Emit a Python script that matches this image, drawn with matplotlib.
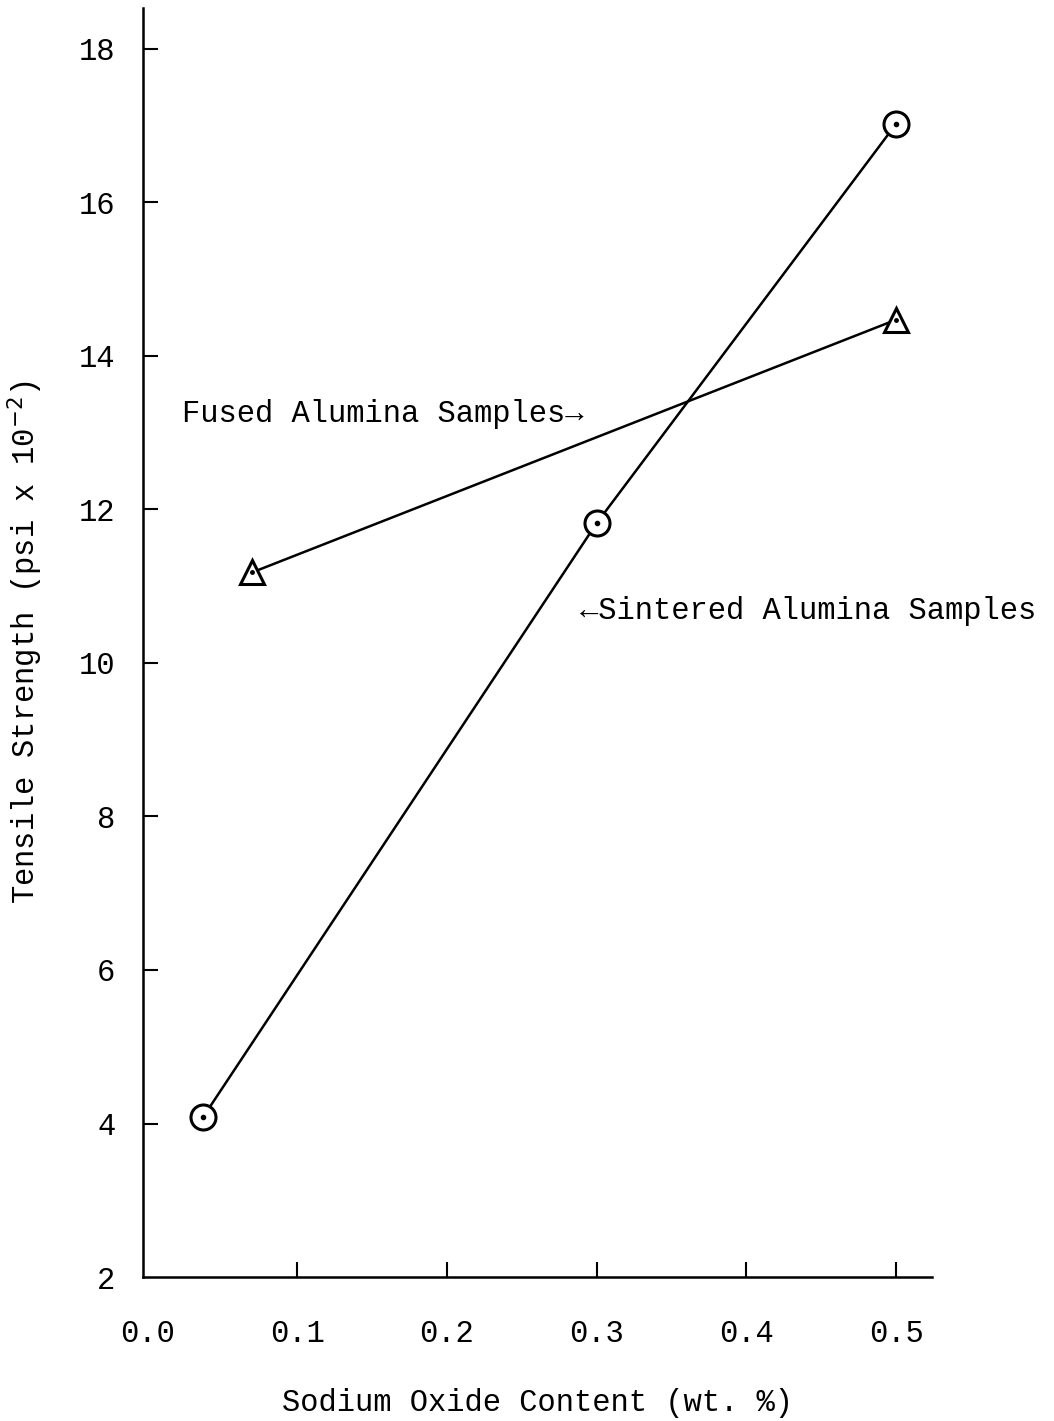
import matplotlib.pyplot as plt

plt.rcParams['font.family'] = ['Liberation Mono', 'DejaVu Sans Mono']

# data
sintered_x = [0.037, 0.30, 0.50]
sintered_y = [4.08, 11.82, 17.02]
fused_x = [0.07, 0.50]
fused_y = [11.18, 14.47]

x_ticks = [0.0, 0.1, 0.2, 0.3, 0.4, 0.5]
y_ticks = [2, 4, 6, 8, 10, 12, 14, 16, 18]

fig = plt.figure(figsize=(10.54, 14.21), dpi=100)
ax = fig.add_axes([0.1357, 0.1013, 0.7485, 0.8930])

ax.plot(sintered_x, sintered_y, color='black', lw=1.8, zorder=2)
ax.plot(sintered_x, sintered_y, 'o', ms=18, mfc='white', mec='black', mew=2.2, zorder=3)
ax.plot(sintered_x, sintered_y, '.', ms=6, color='black', zorder=4)

ax.plot(fused_x, fused_y, color='black', lw=1.8, zorder=2)
ax.plot(fused_x, fused_y, '^', ms=17, mfc='white', mec='black', mew=2.2, zorder=3)
ax.plot(fused_x, fused_y, '.', ms=5, color='black', zorder=4)

ax.text(0.0227, 13.24, 'Fused Alumina Samples\u2192', fontsize=22, va='center', ha='left')
ax.text(0.289, 10.67, '\u2190Sintered Alumina Samples', fontsize=22, va='center', ha='left')

ax.set_xlim(-0.003, 0.524)
ax.set_ylim(2, 18.53)
ax.set_xticks(x_ticks)
ax.set_xticklabels([f'{v:.1f}' for v in x_ticks])
ax.set_yticks(y_ticks)

ax.spines['top'].set_visible(False)
ax.spines['right'].set_visible(False)
for s in ['left', 'bottom']:
    ax.spines[s].set_linewidth(1.8)

ax.tick_params(axis='both', direction='in', length=11, width=1.5, labelsize=22)
ax.tick_params(axis='y', pad=20)
ax.tick_params(axis='x', pad=30)
# the 0.0 and 2 ticks sit on the axis lines in the original
ax.xaxis.get_major_ticks()[0].tick1line.set_visible(False)
ax.yaxis.get_major_ticks()[0].tick1line.set_visible(False)

ax.set_xlabel('Sodium Oxide Content (wt. %)', fontsize=22, labelpad=28)
ax.set_ylabel('Tensile Strength (psi x 10$^{-2}$)', fontsize=22, labelpad=24)

fig.savefig('out.png', dpi=100)
